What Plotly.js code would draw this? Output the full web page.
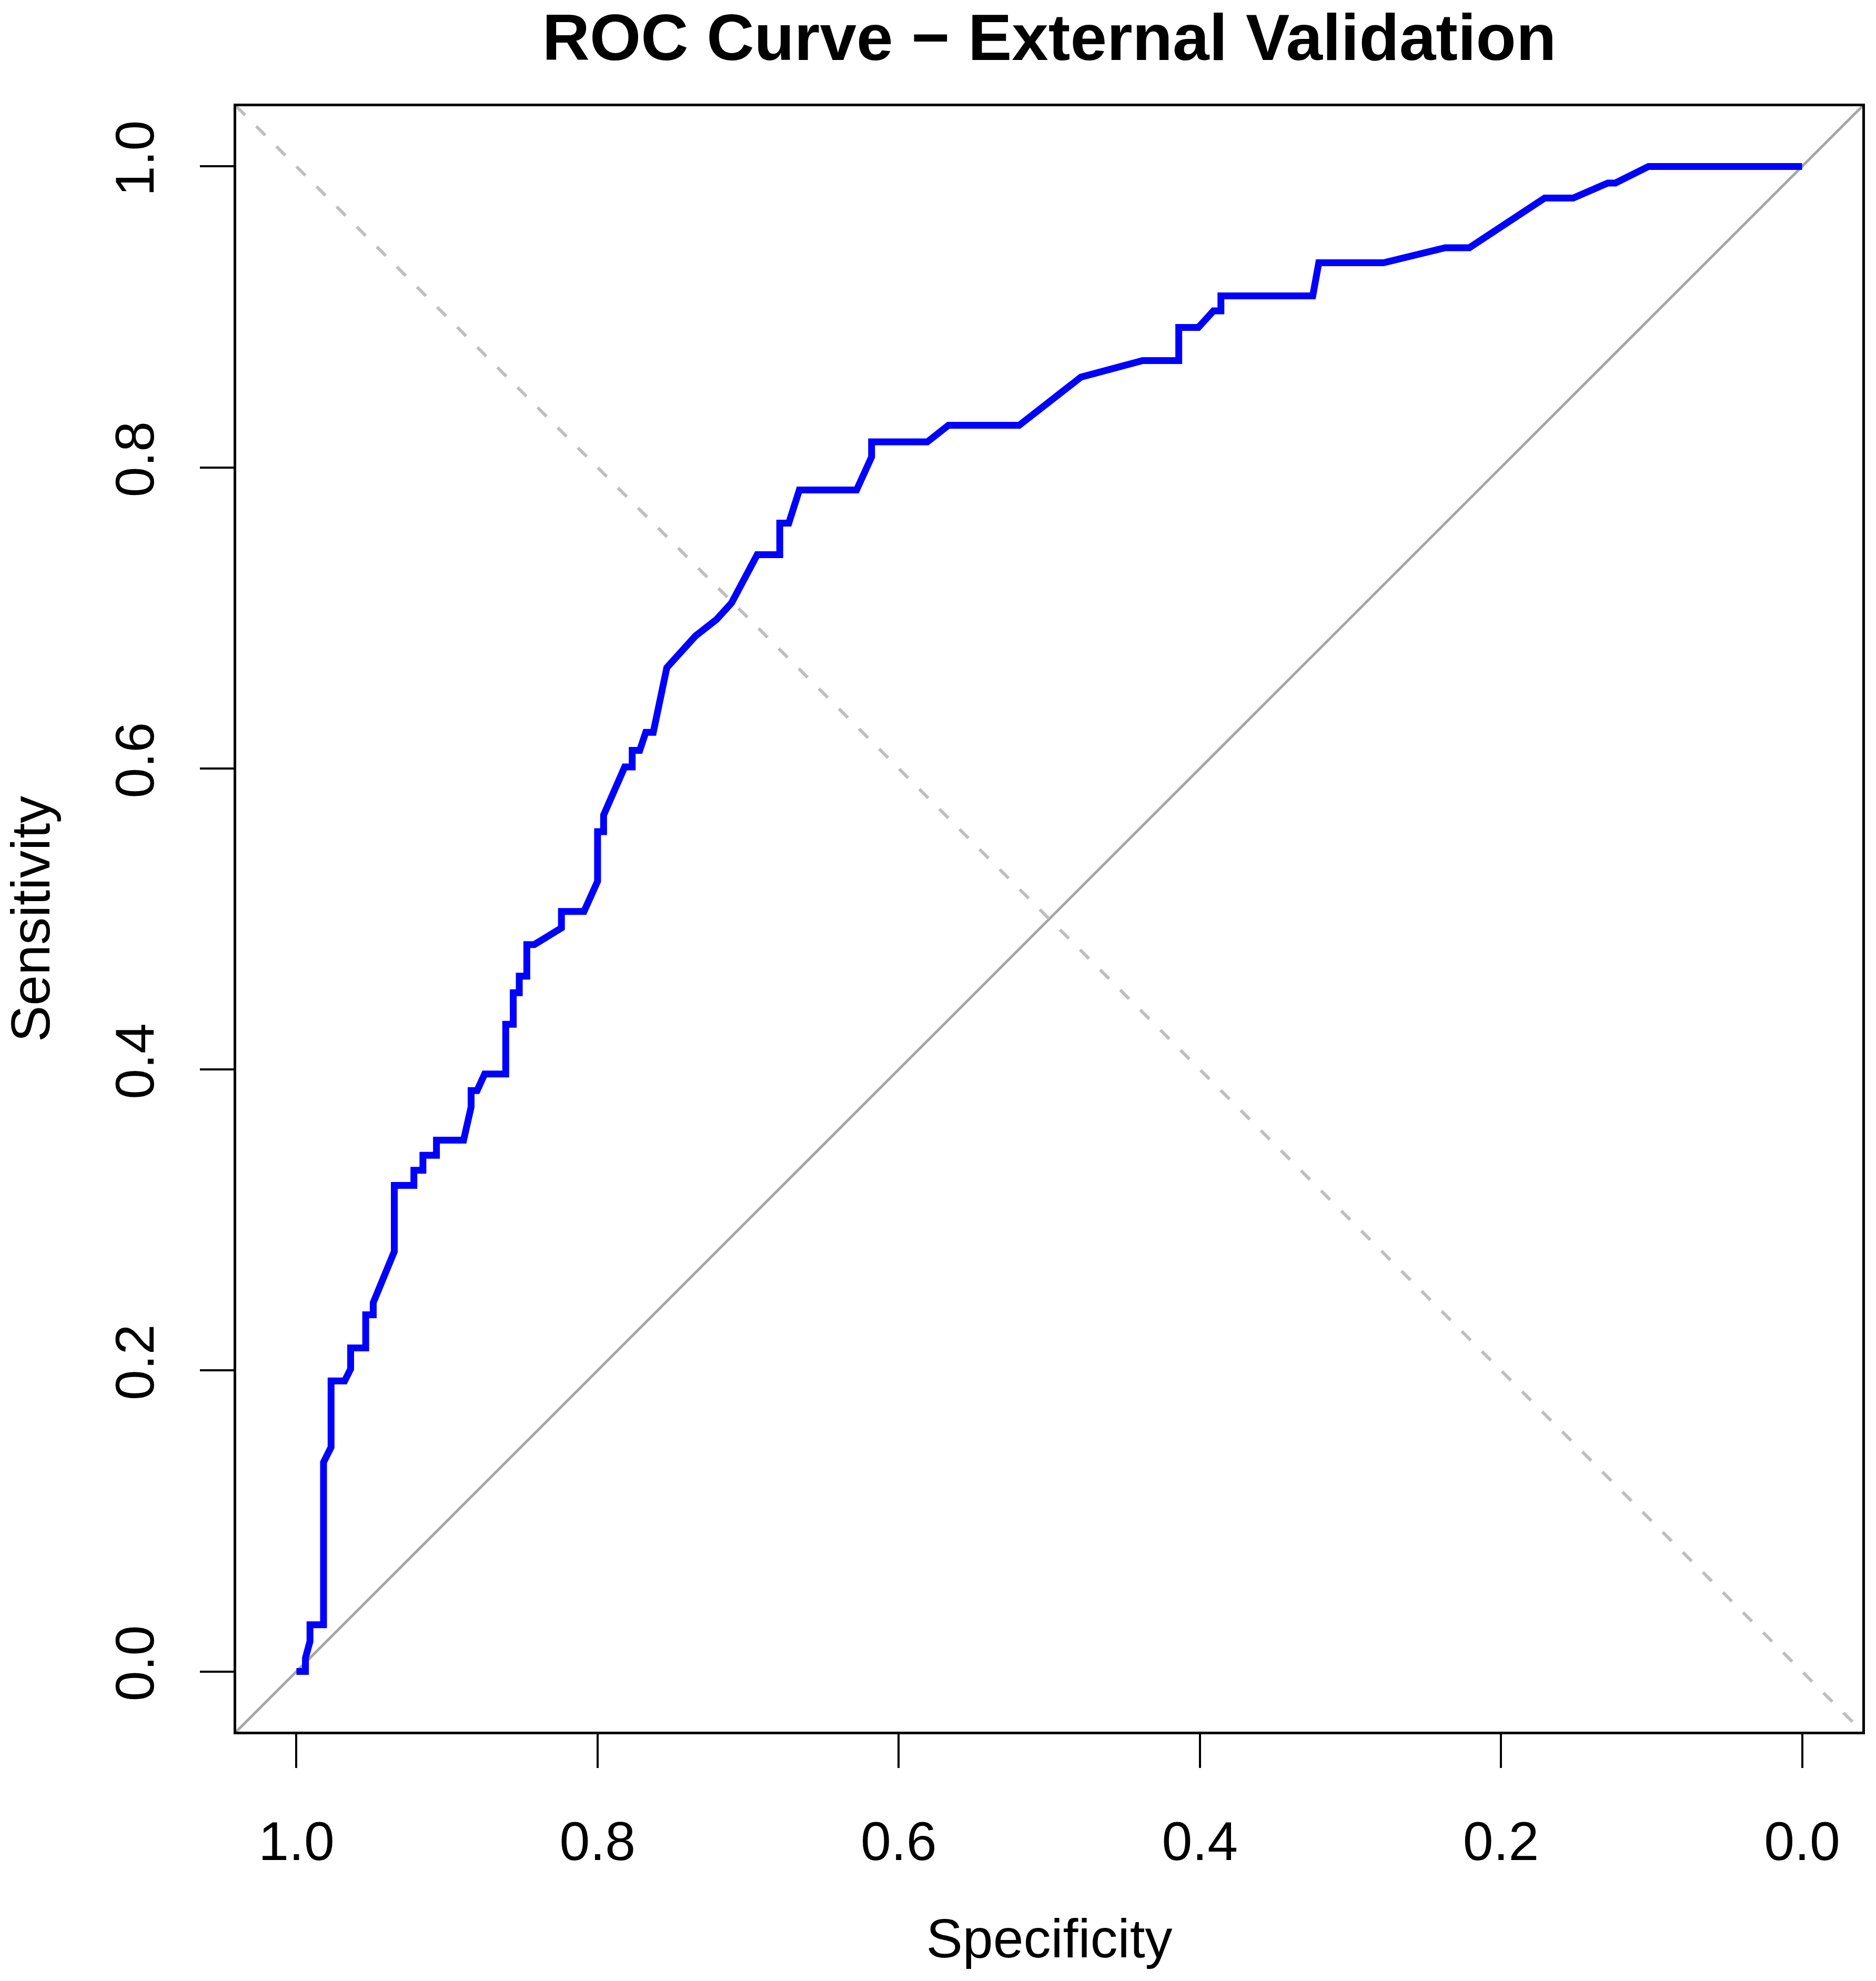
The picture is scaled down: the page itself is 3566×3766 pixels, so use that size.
<!DOCTYPE html>
<html><head><meta charset="utf-8">
<script src="https://cdn.plot.ly/plotly-3.0.1.min.js"></script>
<style>html,body{margin:0;padding:0;background:#fff}</style>
</head><body>
<div id="chart" style="width:3566px;height:3766px"></div>
<script>
// ROC curve points (specificity, sensitivity)
const specificity = [
  1.000, 0.994, 0.994, 0.991, 0.991, 0.982, 0.982, 0.977, 0.977, 0.968,
  0.964, 0.964, 0.954, 0.954, 0.949, 0.949, 0.935, 0.935, 0.922, 0.922,
  0.916, 0.916, 0.907, 0.907, 0.889, 0.884, 0.884, 0.880, 0.875, 0.861,
  0.861, 0.856, 0.856, 0.852, 0.852, 0.847, 0.847, 0.842, 0.824, 0.824,
  0.809, 0.800, 0.800, 0.796, 0.796, 0.782, 0.777, 0.777, 0.772, 0.768,
  0.763, 0.754, 0.735, 0.721, 0.711, 0.699, 0.694, 0.679, 0.679, 0.673,
  0.666, 0.628, 0.618, 0.618, 0.581, 0.567, 0.520, 0.479, 0.475, 0.438,
  0.414, 0.414, 0.401, 0.391, 0.386, 0.386, 0.325, 0.321, 0.278, 0.237,
  0.221, 0.205, 0.171, 0.152, 0.129, 0.124, 0.102, 0.000
];
const sensitivity = [
  0.000, 0.000, 0.009, 0.020, 0.031, 0.031, 0.139, 0.149, 0.193, 0.193,
  0.201, 0.215, 0.215, 0.237, 0.237, 0.245, 0.279, 0.323, 0.323, 0.333,
  0.333, 0.343, 0.343, 0.353, 0.353, 0.375, 0.386, 0.386, 0.397, 0.397,
  0.430, 0.430, 0.451, 0.451, 0.462, 0.462, 0.483, 0.483, 0.494, 0.505,
  0.505, 0.525, 0.558, 0.558, 0.569, 0.601, 0.601, 0.612, 0.612, 0.624,
  0.624, 0.667, 0.688, 0.699, 0.710, 0.731, 0.742, 0.742, 0.763, 0.763,
  0.785, 0.785, 0.807, 0.817, 0.817, 0.828, 0.828, 0.860, 0.861, 0.871,
  0.871, 0.893, 0.893, 0.904, 0.904, 0.914, 0.914, 0.936, 0.936, 0.946,
  0.946, 0.957, 0.979, 0.979, 0.989, 0.989, 1.000, 1.000
];

// Axis ticks
const xTickVals = [1.0, 0.8, 0.6, 0.4, 0.2, 0.0];
const xTickText = ["1.0", "0.8", "0.6", "0.4", "0.2", "0.0"];
const yTickVals = [0.0, 0.2, 0.4, 0.6, 0.8, 1.0];
const yTickText = ["0.0", "0.2", "0.4", "0.6", "0.8", "1.0"];

// Reference lines span the full axis range
const refSpec = [1.04, -0.04];
const chanceSens = refSpec.map(s => 1 - s);   // sensitivity = 1 - specificity
const crossSens = refSpec.map(s => s);         // sensitivity = specificity

const FONT = 'Liberation Sans, Arial, Helvetica, sans-serif';

const traces = [
  {x: refSpec, y: chanceSens, type: 'scatter', mode: 'lines',
   line: {color: '#A6A6A6', width: 5}, hoverinfo: 'skip'},
  {x: refSpec, y: crossSens, type: 'scatter', mode: 'lines',
   line: {color: '#BEBEBE', width: 6, dash: '24px,30px'}, hoverinfo: 'skip'},
  {x: specificity, y: sensitivity, type: 'scatter', mode: 'lines',
   line: {color: '#0000FF', width: 13}, name: 'ROC'}
];

const axisCommon = {
  ticks: 'outside', ticklen: 64, tickwidth: 4, tickcolor: '#000',
  showline: true, linewidth: 5, linecolor: '#000', mirror: true,
  showgrid: false, zeroline: false, autorange: false,
  tickfont: {family: FONT, size: 104, color: '#000'}
};

const layout = {
  width: 3566, height: 3766, autosize: false,
  margin: {l: 449, r: 26, t: 202, b: 474, pad: 0},
  paper_bgcolor: '#ffffff', plot_bgcolor: '#ffffff',
  font: {family: FONT, size: 104, color: '#000'},
  showlegend: false,
  title: {
    text: 'ROC Curve − External Validation',
    font: {family: FONT, size: 125, color: '#000', weight: 700},
    x: 0.5, xref: 'paper', xanchor: 'center',
    y: 1 - 70 / 3766, yref: 'container', yanchor: 'middle'
  },
  xaxis: Object.assign({}, axisCommon, {
    range: [1.04, -0.04],
    tickmode: 'array', tickvals: xTickVals, ticktext: xTickText,
    ticklabelstandoff: 50,
    title: {text: 'Specificity', font: {family: FONT, size: 104, color: '#000'}, standoff: 93}
  }),
  yaxis: Object.assign({}, axisCommon, {
    range: [-0.04, 1.04],
    tickmode: 'array', tickvals: yTickVals, ticktext: yTickText,
    tickangle: -90,
    ticklabelstandoff: 46,
    title: {text: 'Sensitivity', font: {family: FONT, size: 104, color: '#000'}, standoff: 114}
  })
};

Plotly.newPlot('chart', traces, layout, {staticPlot: true, displayModeBar: false});
</script>
</body></html>
